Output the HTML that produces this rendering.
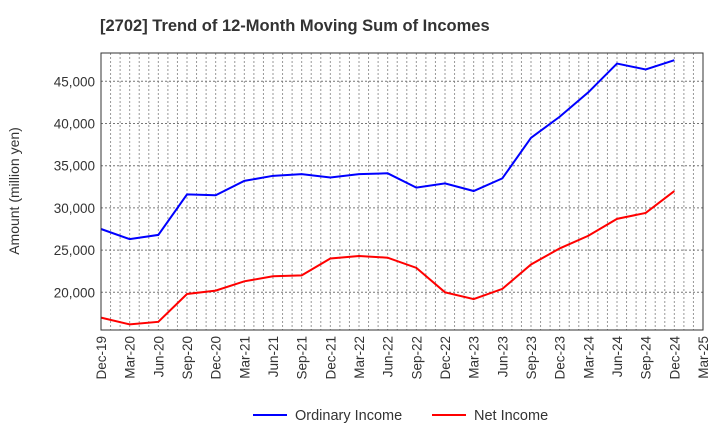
<!DOCTYPE html>
<html><head><meta charset="utf-8"><style>
body{margin:0;background:#fff;font-family:"Liberation Sans",sans-serif}
</style></head><body>
<svg width="720" height="440" xmlns="http://www.w3.org/2000/svg" font-family="Liberation Sans, sans-serif">
<text x="100" y="31" font-size="16.5" font-weight="bold" fill="#333">[2702]  Trend of 12-Month Moving Sum of Incomes</text>
<g id="grid"></g>
<g id="yaxis"></g>
<g id="xaxis"></g>
<g id="series"></g>
<rect x="101" y="53" width="602" height="277" fill="none" stroke="#333" stroke-width="1"/>
<text transform="translate(19,191) rotate(-90)" text-anchor="middle" font-size="14" fill="#333">Amount (million yen)</text>
<g>
<line x1="253" y1="415" x2="287" y2="415" stroke="#0000ff" stroke-width="2"/>
<text x="295" y="420" font-size="14.5" fill="#333">Ordinary Income</text>
<line x1="432" y1="415" x2="466" y2="415" stroke="#ff0000" stroke-width="2"/>
<text x="474" y="420" font-size="14.5" fill="#333">Net Income</text>
</g>
</svg>
<script>
const categories=["Dec-19","Mar-20","Jun-20","Sep-20","Dec-20","Mar-21","Jun-21","Sep-21","Dec-21","Mar-22","Jun-22","Sep-22","Dec-22","Mar-23","Jun-23","Sep-23","Dec-23","Mar-24","Jun-24","Sep-24","Dec-24","Mar-25"];
const ordinaryIncome=[27500,26300,26800,31600,31500,33200,33800,34000,33600,34000,34100,32400,32900,32000,33500,38300,40800,43700,47100,46400,47500];
const netIncome=[17000,16200,16500,19800,20200,21300,21900,22000,24000,24300,24100,22900,20000,19200,20400,23300,25200,26700,28700,29400,32000];
const yTicks=[20000,25000,30000,35000,40000,45000];
const L=101,R=703,T=53,B=330,yMin=15533,yMax=48353;
const NS="http://www.w3.org/2000/svg";
const step=(R-L)/(categories.length-1);
const xs=i=>L+i*step;
const ys=v=>B-(v-yMin)/(yMax-yMin)*(B-T);
function mk(tag,attrs,parent){const e=document.createElementNS(NS,tag);for(const k in attrs)e.setAttribute(k,attrs[k]);parent.appendChild(e);return e;}
const grid=document.getElementById('grid'),ya=document.getElementById('yaxis'),xa=document.getElementById('xaxis'),se=document.getElementById('series');
for(let m=1;m<(categories.length-1)*3;m++){const x=L+m*step/3;
const g=mk('line',{x1:x,x2:x,y1:T,y2:B,stroke:'#999','stroke-dasharray':'2,2','stroke-width':1},grid);

}
yTicks.forEach(v=>{const y=ys(v);
const g=mk('line',{x1:L,x2:R,y1:y,y2:y,stroke:'#777','stroke-dasharray':'2,2','stroke-width':1},grid);


const t=mk('text',{x:L-6,y:y+5,'text-anchor':'end','font-size':13.5,fill:'#333'},ya);t.textContent=v.toLocaleString('en-US');

});
categories.forEach((c,i)=>{const x=xs(i);
const t=mk('text',{transform:`translate(${x+5},336) rotate(-90)`,'text-anchor':'end','font-size':13.5,fill:'#333'},xa);t.textContent=c;

});
function line(data,color,name){const p=mk('polyline',{points:data.map((v,i)=>xs(i)+','+ys(v)).join(' '),fill:'none',stroke:color,'stroke-width':2},se);

}
line(ordinaryIncome,'#0000ff','ordinary-income-line');
line(netIncome,'#ff0000','net-income-line');
</script>
</body></html>
